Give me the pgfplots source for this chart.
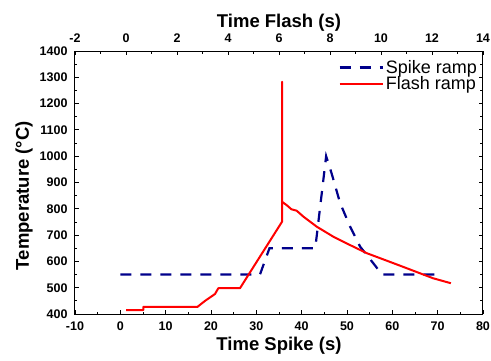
\documentclass[border=0pt]{standalone}
\usepackage{fontspec}
\setmainfont{Liberation Sans}
\usepackage{pgfplots}
\pgfplotsset{compat=1.18}
\definecolor{spikeblue}{RGB}{0,0,139}
\begin{document}
\begin{tikzpicture}
\path[use as bounding box] (0,0) rectangle (491pt,360pt);
\pgfplotsset{
 every axis/.append style={
  scale only axis, width=408pt, height=263pt, at={(75pt,46pt)}, anchor=south west,
  ymin=400, ymax=1400,
  tick align=inside, major tick length=4pt, minor tick length=2.5pt,
  every tick/.style={black, line width=0.9pt},
  axis line style={line width=1pt},
  ticklabel style={font=\fontsize{12.5}{14}\selectfont\bfseries},
  label style={font=\fontsize{18.5}{20}\selectfont\bfseries},
  /pgf/number format/assume math mode=true,
  /pgf/number format/1000 sep={},
 }
}
\begin{axis}[xmin=-10, xmax=80, xtick={-10,0,...,80}, minor x tick num=1,
  ytick={400,500,...,1400}, minor y tick num=1,
  xtick pos=left, ytick pos=both, yticklabel pos=left,
  xticklabel style={yshift=-4pt}, yticklabel style={xshift=-4pt},
  xlabel={Time Spike (s)}, ylabel={Temperature (°C)},
  ylabel style={at={(ticklabel cs:0.45)}}]
\addplot[spikeblue, line width=2.2pt, dash pattern=on 11pt off 9pt] coordinates {
(0,550)(30.8,550)(32.9,650)(43,650)(45.4,1000)(46.6,935)(48.5,821)(50.7,732)(52.9,656)(56.4,580)(57.6,550)(71,550)
};
\end{axis}
\begin{axis}[xmin=-2, xmax=14, xtick={-2,0,...,14}, minor x tick num=1,
  axis x line*=top, hide y axis, xlabel={Time Flash (s)},
  xticklabel style={yshift=5pt}, xlabel style={yshift=-5pt},
  legend style={at={(1,1)}, anchor=north east, draw=none, fill=none,
    font=\fontsize{18}{19}\selectfont, inner sep=1pt, row sep=-2pt,
    yshift=-6pt, xshift=-3pt},
  legend cell align=left,
  legend image code/.code={\draw[#1] (0pt,0pt) -- (43pt,0pt);}]
\addlegendimage{spikeblue, line width=2.2pt, dash pattern=on 11pt off 9pt}
\addlegendentry{Spike ramp}
\addplot[red, line width=2pt, line join=round] coordinates {
(0,415)(0.68,415)(0.68,427)(2.80,427)(3.10,450)(3.49,476)(3.62,498)(4.47,498)(6.12,751)(6.12,1283)(6.12,827)(6.30,814)(6.49,798)(6.69,793)(6.96,770)(7.48,732)(8.13,694)(8.79,662)(9.45,631)(10.74,584)(12.04,536)(12.74,517)
};
\addlegendentry{Flash ramp}
\end{axis}
\end{tikzpicture}
\end{document}
